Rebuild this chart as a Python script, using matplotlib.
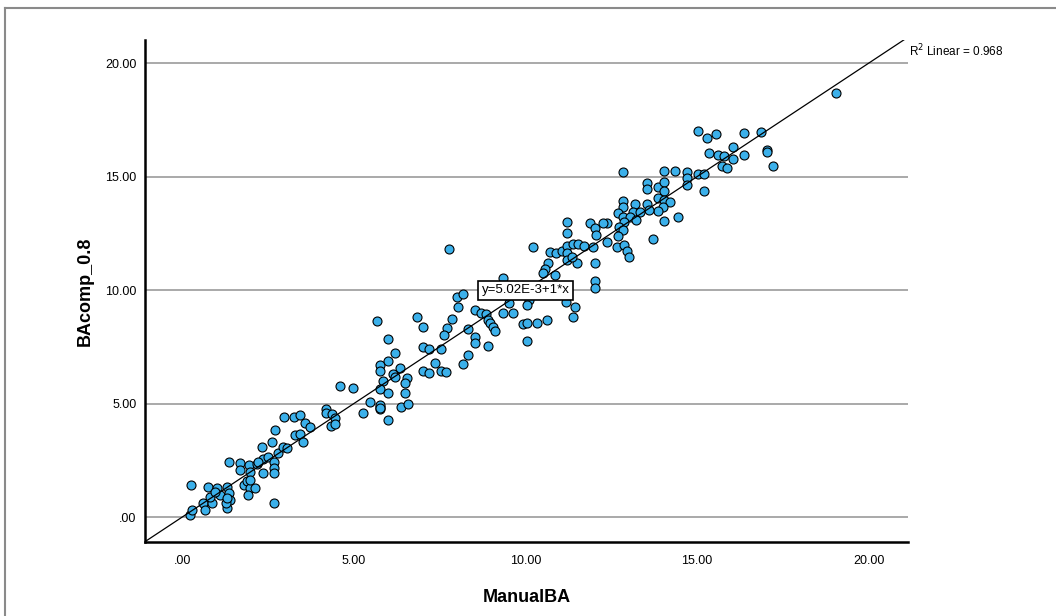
import numpy as np
import matplotlib
matplotlib.use("Agg")
import matplotlib.pyplot as plt
from matplotlib.lines import Line2D

plt.rcParams['font.family'] = ['Liberation Sans', 'DejaVu Sans']

# ManualBA (x) vs BAcomp_0.8 (y)
manual_ba = [
    0.24, 0.23, 0.29, 0.61, 0.66, 0.85, 0.75, 1.00, 0.80, 1.09, 1.31, 1.36, 1.38, 1.31, 1.27,
    1.79, 1.87, 1.97, 2.11, 1.92, 1.36, 1.68, 1.68, 1.95, 1.97, 2.17, 2.35, 2.34, 2.50, 2.68,
    2.68, 2.68, 2.78, 2.33, 2.60, 2.71, 2.94, 3.04, 2.67, 2.96, 3.25, 3.44, 3.58, 3.73, 3.27,
    3.43, 3.51, 2.20, 1.31, 1.97, 0.95,
    4.18, 4.18, 4.37, 4.45, 4.32, 4.45, 5.27, 5.47, 5.76, 5.76, 6.00, 6.36, 6.57, 4.59, 4.98,
    5.76, 5.76, 6.00, 6.00, 5.68, 6.20, 6.34, 6.13, 6.20, 6.55, 6.49, 5.84, 5.76, 6.00, 6.49,
    5.76, 5.76, 6.85, 7.02, 8.04, 7.85, 7.70, 7.62, 8.33, 8.33, 8.19, 7.99, 8.19, 7.02, 7.20,
    7.53, 7.36, 7.02, 7.20, 7.53, 7.68, 7.78, 8.53, 8.53, 8.92, 8.53, 8.69, 8.85, 8.92, 8.96,
    9.06, 9.11, 9.35, 9.63, 9.35, 9.92, 10.03, 10.33, 10.03, 10.21, 9.53, 10.10, 10.03,
    11.20, 11.20, 11.88, 12.03, 12.06, 10.71, 10.89, 11.06, 11.20, 11.38, 11.54, 11.71, 11.96,
    11.20, 11.20, 11.49, 10.66, 10.57, 10.52, 10.86, 12.03, 12.03, 12.03, 11.18, 11.44, 11.38,
    10.62, 11.37,
    15.04, 15.30, 15.55, 16.37, 16.04, 16.37, 15.36, 15.62, 15.79, 16.04, 15.72, 15.87, 12.85,
    14.04, 14.36, 14.70, 15.04, 15.20, 14.72, 14.72, 15.20, 13.53, 13.53, 13.87, 14.04, 14.04,
    13.87, 14.04, 14.21, 14.02, 13.87, 13.53, 13.61, 12.85, 12.85, 13.19, 13.14, 13.34, 12.71,
    12.85, 13.05, 13.22, 12.87, 12.38, 12.25, 12.73, 12.85, 12.71, 14.04, 14.45, 13.71, 12.68,
    12.87, 12.95, 13.03, 12.37, 16.86, 17.03, 17.05, 17.22, 19.05,
]
bacomp = [
    1.43, 0.09, 0.31, 0.60, 0.31, 0.60, 1.31, 1.28, 0.90, 0.97, 1.34, 1.06, 0.75, 0.38, 0.60,
    1.41, 1.59, 1.27, 1.27, 0.97, 2.44, 2.37, 2.09, 2.29, 2.00, 2.34, 1.94, 2.56, 2.63, 2.44,
    2.15, 1.93, 2.81, 3.10, 3.32, 3.84, 3.09, 3.03, 0.64, 4.42, 4.40, 4.50, 4.13, 3.95, 3.62,
    3.65, 3.31, 2.44, 0.85, 1.63, 1.10,
    4.75, 4.57, 4.54, 4.35, 4.01, 4.10, 4.60, 5.08, 4.86, 4.75, 4.28, 4.86, 4.98, 5.78, 5.67,
    6.70, 6.45, 6.88, 7.85, 8.66, 7.22, 6.56, 6.31, 6.16, 6.12, 5.92, 6.01, 5.63, 5.48, 5.48,
    4.94, 4.79, 8.83, 8.36, 9.27, 8.72, 8.32, 8.02, 8.28, 7.14, 6.75, 9.71, 9.83, 7.48, 7.41,
    7.39, 6.80, 6.45, 6.34, 6.45, 6.41, 11.82, 7.92, 7.66, 7.54, 9.13, 9.01, 8.95, 8.69, 8.54,
    8.36, 8.21, 9.01, 9.01, 10.52, 8.51, 8.57, 8.57, 7.77, 11.89, 9.42, 9.57, 9.35,
    13.02, 12.54, 12.95, 12.73, 12.43, 11.70, 11.63, 11.74, 11.95, 12.04, 12.04, 11.95, 11.92,
    11.63, 11.33, 11.19, 11.19, 10.92, 10.77, 10.67, 11.19, 10.40, 10.10, 9.49, 9.25, 8.80,
    8.69, 11.48,
    17.03, 16.70, 16.89, 16.94, 16.30, 15.96, 16.04, 15.96, 15.92, 15.77, 15.48, 15.37, 15.22,
    15.27, 15.27, 15.22, 15.12, 15.12, 14.93, 14.64, 14.39, 14.74, 14.45, 14.54, 14.78, 14.39,
    14.05, 13.98, 13.90, 13.66, 13.51, 13.80, 13.54, 13.95, 13.66, 13.80, 13.46, 13.46, 13.39,
    13.24, 13.24, 13.10, 13.02, 12.95, 12.95, 12.80, 12.65, 12.39, 13.06, 13.21, 12.24, 11.92,
    11.99, 11.74, 11.48, 12.14, 16.96, 16.19, 16.11, 15.48, 18.71,
]

intercept = 5.02e-3
slope = 1.0
r2 = 0.968
yticks = [0, 5, 10, 15, 20]
xticks = [0, 5, 10, 15, 20]

fig = plt.figure(figsize=(10.56, 6.16), dpi=100)
ax = fig.add_axes([145 / 1056, 1 - 542 / 616, (908 - 145) / 1056, (542 - 40) / 616])

xlim = (-1.09, 21.15)
ylim = (-1.10, 21.03)
ax.set_xlim(xlim)
ax.set_ylim(ylim)

for yv in yticks:
    ax.axhline(yv, color='#a3a3a3', lw=1.3, zorder=1)

ax.scatter(manual_ba, bacomp, s=42, c='#3bb0ea', edgecolors='black', linewidths=0.8, zorder=3)

xs = np.array(xlim)
ax.plot(xs, intercept + slope * xs, color='black', lw=0.9, zorder=4)

ax.text(10.0, 10.0, 'y=5.02E-3+1*x', fontsize=9.5, ha='center', va='center', zorder=6,
        bbox=dict(boxstyle='square,pad=0.25', fc='white', ec='black', lw=1.2))

ax.text(909 / 1056, 1 - 51 / 616, 'R$^2$ Linear = %.3f' % r2, transform=fig.transFigure,
        fontsize=8.5, ha='left', va='center')

ax.set_xticks(xticks)
ax.set_xticklabels(['.00' if v == 0 else '%.2f' % v for v in xticks])
ax.set_yticks(yticks)
ax.set_yticklabels(['.00' if v == 0 else '%.2f' % v for v in yticks])
ax.tick_params(length=0, labelsize=9)
ax.tick_params(axis='x', pad=9)
ax.tick_params(axis='y', pad=6)

for s in ['top', 'right']:
    ax.spines[s].set_visible(False)
for s in ['left', 'bottom']:
    ax.spines[s].set_linewidth(1.8)

ax.set_xlabel('ManualBA', fontsize=13, fontweight='bold', labelpad=16)
ax.set_ylabel('BAcomp_0.8', fontsize=13, fontweight='bold', labelpad=8)

# outer frame of the chart panel
fig.add_artist(Line2D([5 / 1056, 5 / 1056], [0, 1 - 8 / 616], color='#8a8a8a', lw=1.5))
fig.add_artist(Line2D([5 / 1056, 1], [1 - 8 / 616, 1 - 8 / 616], color='#8a8a8a', lw=1.5))

fig.savefig('out.png', dpi=100)
